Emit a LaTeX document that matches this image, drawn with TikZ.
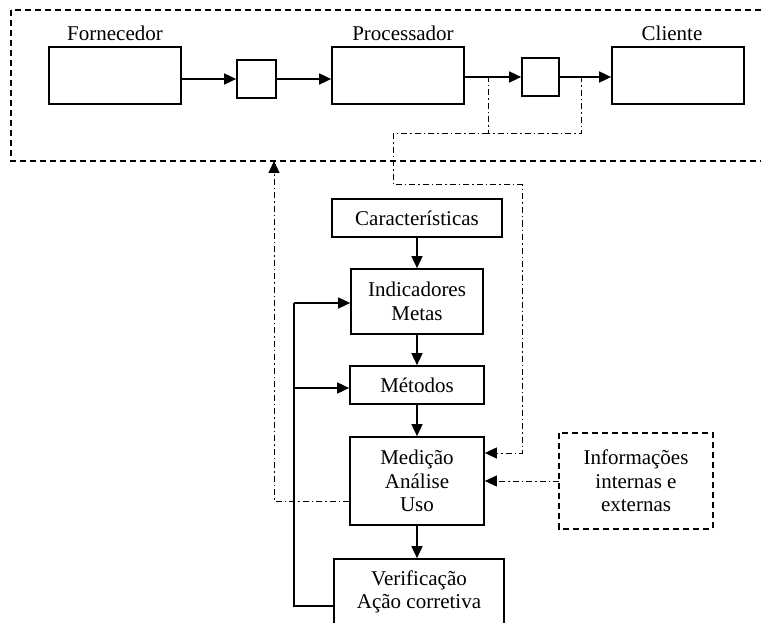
\documentclass[tikz,border=0pt]{standalone}
\usepackage{fontspec}
\setmainfont{Liberation Serif}
\usetikzlibrary{arrows.meta}
\begin{document}
\begin{tikzpicture}[x=1pt,y=-1pt,
  txt/.style={font=\fontsize{21}{23.5}\selectfont},
  box/.style={draw, line width=1.7pt, inner sep=0pt, align=center, txt},
  lbl/.style={txt, inner sep=0pt, anchor=base},
  tip/.style={-{Triangle[length=12pt,width=11pt]}},
  flow/.style={line width=1.7pt, tip},
  line/.style={line width=1.7pt},
  info/.style={line width=1pt, dash pattern=on 6pt off 3pt on 1.5pt off 3pt},
  frame/.style={line width=1.7pt, dash pattern=on 6pt off 4pt}]
\useasboundingbox (0,0) rectangle (761,623);
\clip (0,0) rectangle (761,623);

% supply chain frame
\draw[frame] (11,10) rectangle (775,161);

% supply chain boxes
\node[box, minimum width=132pt, minimum height=57pt] (forn) at (115,75.5) {};
\node[box, minimum width=39pt, minimum height=38pt] (b1) at (256.5,79) {};
\node[box, minimum width=132pt, minimum height=57pt] (proc) at (398,75.5) {};
\node[box, minimum width=37pt, minimum height=38pt] (b2) at (540.5,77) {};
\node[box, minimum width=132pt, minimum height=57pt] (cli) at (678,75.5) {};

\node[lbl] (lforn) at (115,41) {Fornecedor};
\node[lbl] (lproc) at (403,41) {Processador};
\node[lbl] (lcli) at (672,41) {Cliente};

\draw[flow] (b1.west -| forn.east) -- (b1.west);
\draw[flow] (b1.east) -- (b1.east -| proc.west);
\draw[flow] (b2.west -| proc.east) -- (b2.west);
\draw[flow] (b2.east) -- (b2.east -| cli.west);

% measurement chain
\node[box, minimum width=170pt, minimum height=38pt] (car) at (417,218) {Características};
\node[box, minimum width=132pt, minimum height=65pt] (ind) at (417,301.5) {Indicadores\\Metas};
\node[box, minimum width=134pt, minimum height=38pt] (met) at (417,385) {Métodos};
\node[box, minimum width=134pt, minimum height=88pt] (med) at (417,481) {Medição\\Análise\\Uso};
\node[box, minimum width=170pt, minimum height=66pt] (ver) at (419,592) {Verificação\\Ação corretiva};
\node[box, draw=none, minimum width=152pt, minimum height=94pt] (inf) at (636,481) {Informações\\internas e\\externas};
\draw[frame] (inf.north west) rectangle (inf.south east);

\draw[flow] (car.south) -- (ind.north);
\draw[flow] (ind.south) -- (met.north);
\draw[flow] (met.south) -- (med.north);
\draw[flow] (med.south) -- (med.south |- ver.north);

% corrective feedback
\coordinate (fbI) at (294,303);
\coordinate (fbM) at (294,388);
\draw[line] (ver.west |- 0,606) -- (294,606) -- (fbI);
\draw[flow] (fbI) -- (fbI -| ind.west);
\draw[flow] (fbM) -- (fbM -| met.west);

% information flows
\coordinate (tapA) at (488,76);
\coordinate (tapB) at (581,76);
\draw[info] (tapA) -- (488,134) -- (tapB |- 0,134) -- (tapB);
\draw[info, tip] (488,134) -- (393,134) -- (393,185) -- (522,185) -- (522,453) -- (med.east |- 0,453);
\draw[info, tip] (inf.west) -- (med.east |- inf.west);
\draw[info, tip] (med.west |- 0,501) -- (274,501) -- (274,161);
\end{tikzpicture}
\end{document}
